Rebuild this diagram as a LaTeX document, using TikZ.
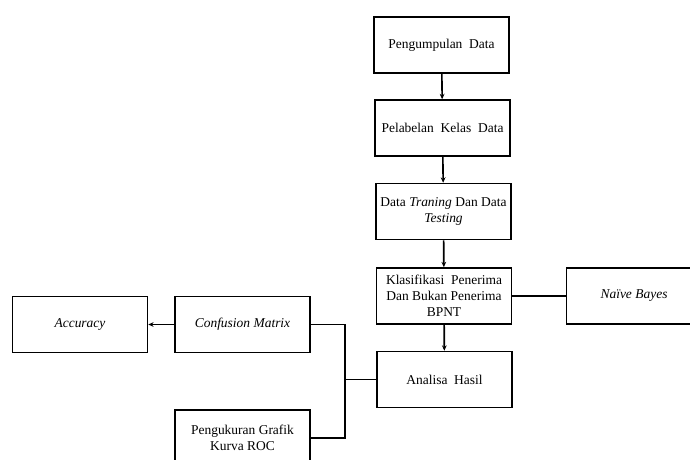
\documentclass[tikz,border=0pt]{standalone}
\usepackage{fontspec}
\setmainfont{Liberation Serif}
\usetikzlibrary{arrows.meta}
\tikzset{
  kotak/.style={draw, line width=1.2pt, minimum width=3.52cm, minimum height=1.46cm, align=center, font=\fontsize{10}{12}\selectfont},
  garis/.style={line width=1.2pt},
  panah/.style={garis, -{Stealth[length=4pt,width=3.5pt]}}
}
\begin{document}
\begin{tikzpicture}[x=0.0261cm, y=-0.0261cm]
                        \clip (0,0) rectangle (690,459);
                        \node[kotak] (kumpul) at (441.5,45) {Pengumpulan\ \ Data};
                        \node[kotak] (label) at (442.5,128) {Pelabelan\ \ Kelas\ \ Data};
                        \node[kotak] (split) at (443.5,211.5) {Data \textit{Traning} Dan Data\\\textit{Testing}};
                        \node[kotak] (klasifikasi) at (444,296) {Klasifikasi\ \ Penerima\\Dan Bukan Penerima\\BPNT};
                        \node[kotak] (naive) at (634,296) {\textit{Naïve Bayes}};
                        \node[kotak] (analisa) at (444.5,379.5) {Analisa\ \ Hasil};
                        \node[kotak] (confusion) at (242.5,324.5) {\textit{Confusion Matrix}};
                        \node[kotak] (accuracy) at (80,324.5) {\textit{Accuracy}};
                        \node[kotak] (roc) at (242.5,438) {Pengukuran Grafik\\Kurva ROC};
                        \coordinate (cabang) at (345,379.5);
                        \draw[panah] (kumpul) -- (label);
                        \draw[panah] (label) -- (split);
                        \draw[panah] (split) -- (klasifikasi);
                        \draw[panah] (klasifikasi) -- (analisa);
                        \draw[garis] (klasifikasi) -- (naive);
                        \draw[panah] (confusion) -- (accuracy);
                        \draw[garis] (confusion.east) -| (cabang);
                        \draw[garis] (roc.east) -| (cabang);
                        \draw[garis] (cabang) -- (analisa.west);
                    \end{tikzpicture}
\end{document}
